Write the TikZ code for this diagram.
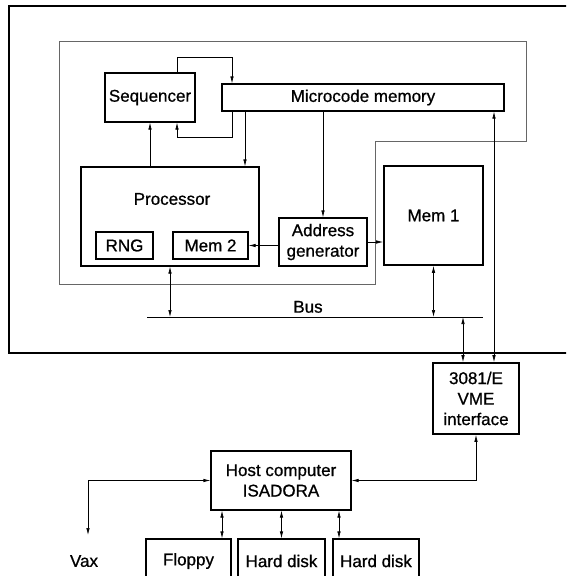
\documentclass[tikz,border=0pt]{standalone}
\usepackage{fontspec}
\setmainfont{Liberation Sans}
\newfontfamily\diagfont[RawFeature={embolden=0.8}]{Liberation Sans}
\usetikzlibrary{arrows.meta}
\begin{document}
\begin{tikzpicture}[x=1pt,y=-1pt,
  lbl/.style={inner sep=0pt,align=center,font=\diagfont\fontsize{17}{20.5}\selectfont},
  box/.style={lbl,draw,line width=1.2pt},
  heavybox/.style={box,line width=1.6pt},
  conn/.style={line width=0.7pt},
  >={Latex[length=7pt,width=3.5pt]}]
\useasboundingbox (0,0) rectangle (566,576);
\clip (0,0) rectangle (566,576);
% outer frame and inner boundary
\draw[line width=1.8pt] (9,6) rectangle (640,353);
\draw[black!60,line width=0.5pt] (59,41) -- (526,41) -- (526,141) -- (375,141) -- (375,284) -- (59,284) -- cycle;
% boxes
\node[box,minimum width=90pt,minimum height=49pt] (seq) at (150,97.5) {Sequencer};
\node[box,minimum width=282pt,minimum height=27pt] (mc) at (363,97.5) {Microcode memory};
\node[box,minimum width=178pt,minimum height=99pt] (proc) at (170,216.5) {};
\node[lbl] (proclbl) at (172,199) {Processor};
\node[box,minimum width=57pt,minimum height=27pt] (rng) at (124.5,245.5) {RNG};
\node[box,minimum width=75pt,minimum height=27pt] (mem2) at (210.5,245.5) {Mem 2};
\node[box,minimum width=88pt,minimum height=48pt] (addr) at (323,242) {Address\\generator};
\node[heavybox,minimum width=99pt,minimum height=99pt] (mem1) at (433.5,215.5) {Mem 1};
\node[heavybox,minimum width=86pt,minimum height=71pt] (vme) at (476,398.5) {3081/E\\VME\\interface};
\node[box,minimum width=140pt,minimum height=59pt] (host) at (281,480.5) {Host computer\\ISADORA};
\node[box,minimum width=85pt,minimum height=44pt] (floppy) at (188.5,561) {Floppy};
\node[box,minimum width=87pt,minimum height=44pt] (hd1) at (281.5,561) {Hard disk};
\node[box,minimum width=86pt,minimum height=44pt] (hd2) at (376,561) {Hard disk};
\node[lbl] (vax) at (84,561) {Vax};
% bus
\coordinate (busL) at (147,317);
\coordinate (busR) at (483,317);
\draw[conn] (busL) -- (busR);
\node[lbl,anchor=south] (buslbl) at (308,313) {Bus};
% helper coordinates
\coordinate (lpA) at (177,57);
\coordinate (lpB) at (232,57);
\coordinate (lpC) at (232,137);
\coordinate (lpD) at (177,137);
\coordinate (x245) at (245,0);
\coordinate (x463) at (463,0);
\coordinate (x494) at (494,0);
\coordinate (x222) at (222,0);
\coordinate (x339) at (339,0);
\coordinate (vaxtip) at (88,535);
% connectors
\draw[conn,->] (seq.north -| lpA) -- (lpA) -- (lpB) -- (mc.north -| lpB);
\draw[conn,->] (mc.south -| lpC) -- (lpC) -- (lpD) -- (seq.south -| lpD);
\draw[conn,->] (seq.south |- proc.north) -- (seq.south);
\draw[conn,->] (mc.south -| x245) -- (proc.north -| x245);
\draw[conn,->] (mc.south -| addr.north) -- (addr.north);
\draw[conn,->] (addr.west |- mem2.east) -- (mem2.east);
\draw[conn,->] (addr.east) -- (addr.east -| mem1.west);
\draw[conn,<->] (proc.south) -- (proc.south |- busL);
\draw[conn,<->] (mem1.south) -- (mem1.south |- busL);
\draw[conn,<->] (busL -| x463) -- (vme.north -| x463);
\draw[conn,<->] (mc.south -| x494) -- (vme.north -| x494);
\draw[conn,<->] (vme.south) |- (host.east);
\draw[conn,<->] (host.west) -| (vaxtip);
\draw[conn,<->] (host.south -| x222) -- (floppy.north -| x222);
\draw[conn,<->] (host.south -| hd1.north) -- (hd1.north);
\draw[conn,<->] (host.south -| x339) -- (hd2.north -| x339);
\end{tikzpicture}
\end{document}
